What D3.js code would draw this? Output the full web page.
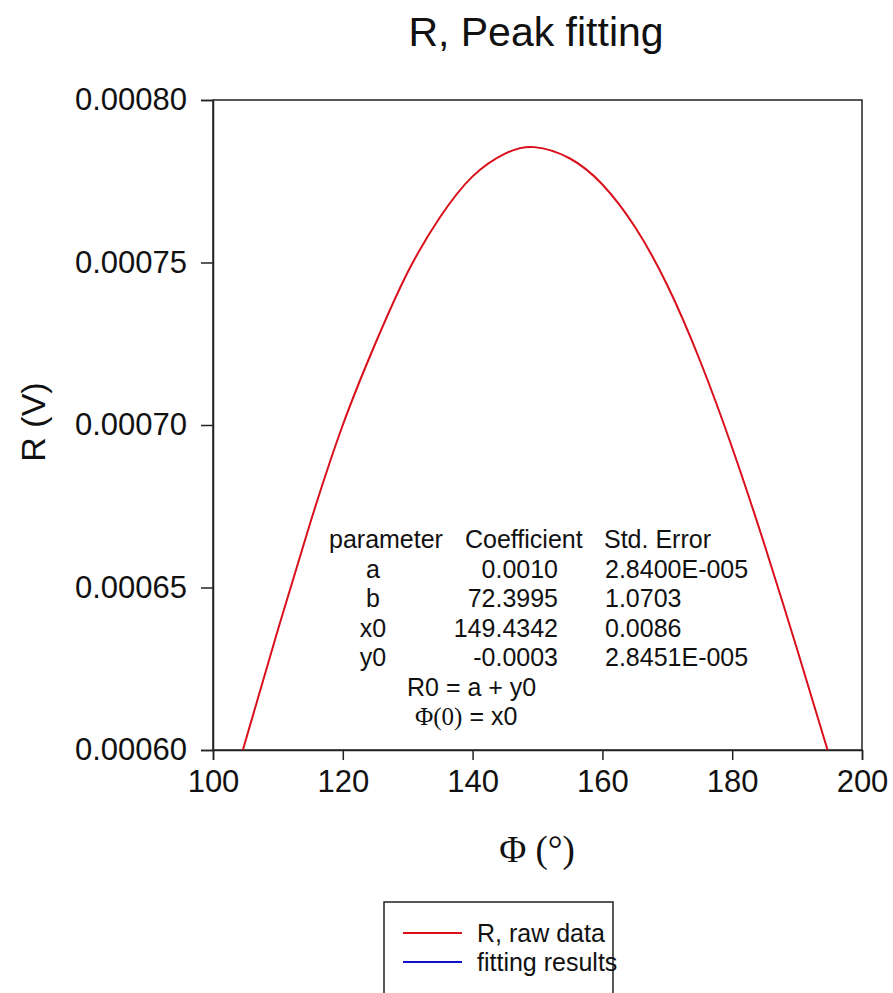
<!DOCTYPE html>
<html>
<head>
    <title>R, Peak fitting</title>
    <script src="https://d3js.org/d3.v7.min.js"></script>
    <style>
        body {
            margin: 0;
            padding: 0;
            background: #fff;
            font-family: "Liberation Sans", Arial, sans-serif;
            overflow: hidden;
        }
        .serif {
            font-family: "Liberation Serif", "Times New Roman", serif;
        }
    </style>
</head>
<body>
    <div id="chart"></div>

    <script>
        // Points (phi in degrees, R in volts)
        const phiValues = [104.6, 110, 115, 120, 125, 130, 135, 140, 145, 149.5,
                           155, 160, 165, 170, 175, 180, 185, 190, 194.7];
        const rValues = [0.000600, 0.000637, 0.000670, 0.000700, 0.000725, 0.000747, 0.000764, 0.0007765, 0.0007835, 0.0007855,
                         0.000782, 0.000774, 0.000761, 0.000743, 0.000720, 0.000693, 0.000663, 0.000631, 0.000600];

        const xTicks = [100, 120, 140, 160, 180, 200];
        const yTicks = [0.0006, 0.00065, 0.0007, 0.00075, 0.0008];

        const tableHeader = ["parameter", "Coefficient", "Std. Error"];
        const paramNames = ["a", "b", "x0", "y0"];
        const paramCoef = ["0.0010", "72.3995", "149.4342", "-0.0003"];
        const paramErr = ["2.8400E-005", "1.0703", "0.0086", "2.8451E-005"];

        const legendLabels = ["R, raw data", "fitting results"];
        const legendColors = ["#d9101c", "#1010d0"];

        const width = 893;
        const height = 993;
        const margin = { top: 100, right: 31, bottom: 243, left: 213 };

        const svg = d3.select("#chart")
            .append("svg")
            .attr("width", width)
            .attr("height", height);

        const x = d3.scaleLinear().domain([100, 200]).range([margin.left, width - margin.right]);
        const y = d3.scaleLinear().domain([0.0006, 0.0008]).range([height - margin.bottom, margin.top]);

        // frame
        svg.append("rect")
            .attr("x", x(100))
            .attr("y", y(0.0008))
            .attr("width", x(200) - x(100))
            .attr("height", y(0.0006) - y(0.0008))
            .attr("fill", "none")
            .attr("stroke", "#222")
            .attr("stroke-width", 1.5);

        const xAxis = svg.append("g")
            .attr("transform", `translate(0,${y(0.0006)})`)
            .call(d3.axisBottom(x).tickValues(xTicks).tickSize(10).tickPadding(10).tickFormat(d3.format("d")));

        const yAxis = svg.append("g")
            .attr("transform", `translate(${x(100)},0)`)
            .call(d3.axisLeft(y).tickValues(yTicks).tickSize(12).tickPadding(14).tickFormat(d3.format(".5f")));

        [xAxis, yAxis].forEach(g => {
            g.select(".domain").attr("stroke", "#222").attr("stroke-width", 1.5);
            g.selectAll(".tick line").attr("stroke", "#222").attr("stroke-width", 1.5);
            g.selectAll(".tick text")
                .attr("fill", "#111")
                .style("font-family", "'Liberation Sans', Arial, sans-serif")
                .style("font-size", "31px");
        });

        // curve
        const line = d3.line()
            .x((d, i) => x(phiValues[i]))
            .y(d => y(d))
            .curve(d3.curveNatural);

        svg.append("path")
            .datum(rValues)
            .attr("d", line)
            .attr("fill", "none")
            .attr("stroke", legendColors[0])
            .attr("stroke-width", 2);

        // title and axis labels
        svg.append("text")
            .attr("x", 536)
            .attr("y", 46)
            .attr("text-anchor", "middle")
            .style("font-size", "41px")
            .attr("fill", "#111")
            .text("R, Peak fitting");

        svg.append("text")
            .attr("class", "serif")
            .attr("x", 537)
            .attr("y", 862)
            .attr("text-anchor", "middle")
            .style("font-size", "37px")
            .attr("fill", "#111")
            .text("\u03A6 (\u00B0)");

        svg.append("text")
            .attr("transform", "translate(45,422) rotate(-90)")
            .attr("text-anchor", "middle")
            .style("font-size", "34px")
            .attr("fill", "#111")
            .text("R (V)");

        // fit parameter table
        const table = svg.append("g").style("font-size", "25px").attr("fill", "#111");
        const rowY = d3.scaleLinear().domain([0, 1]).range([548, 577.5]);

        table.append("text").attr("x", 329).attr("y", rowY(0)).text(tableHeader[0]);
        table.append("text").attr("x", 465).attr("y", rowY(0)).text(tableHeader[1]);
        table.append("text").attr("x", 604).attr("y", rowY(0)).text(tableHeader[2]);

        paramNames.forEach((p, i) => {
            table.append("text").attr("x", 373).attr("y", rowY(i + 1)).attr("text-anchor", "middle").text(p);
            table.append("text").attr("x", 558).attr("y", rowY(i + 1)).attr("text-anchor", "end").text(paramCoef[i]);
            table.append("text").attr("x", 605).attr("y", rowY(i + 1)).text(paramErr[i]);
        });

        table.append("text").attr("x", 407).attr("y", rowY(5)).text("R0 = a + y0");
        const phiLine = table.append("text").attr("x", 415).attr("y", rowY(6));
        phiLine.append("tspan").attr("class", "serif").text("\u03A6(0)");
        phiLine.append("tspan").text(" = x0");

        // legend
        const legend = svg.append("g");
        legend.append("rect")
            .attr("x", 384)
            .attr("y", 902)
            .attr("width", 229)
            .attr("height", 110)
            .attr("fill", "#fff")
            .attr("stroke", "#222")
            .attr("stroke-width", 1.5);

        legendLabels.forEach((label, i) => {
            const ly = 933 + i * 29;
            legend.append("line")
                .attr("x1", 403).attr("x2", 462)
                .attr("y1", ly).attr("y2", ly)
                .attr("stroke", legendColors[i])
                .attr("stroke-width", 2);
            legend.append("text")
                .attr("x", 477)
                .attr("y", ly + 9)
                .style("font-size", "25px")
                .attr("fill", "#111")
                .text(label);
        });
    </script>
</body>
</html>
